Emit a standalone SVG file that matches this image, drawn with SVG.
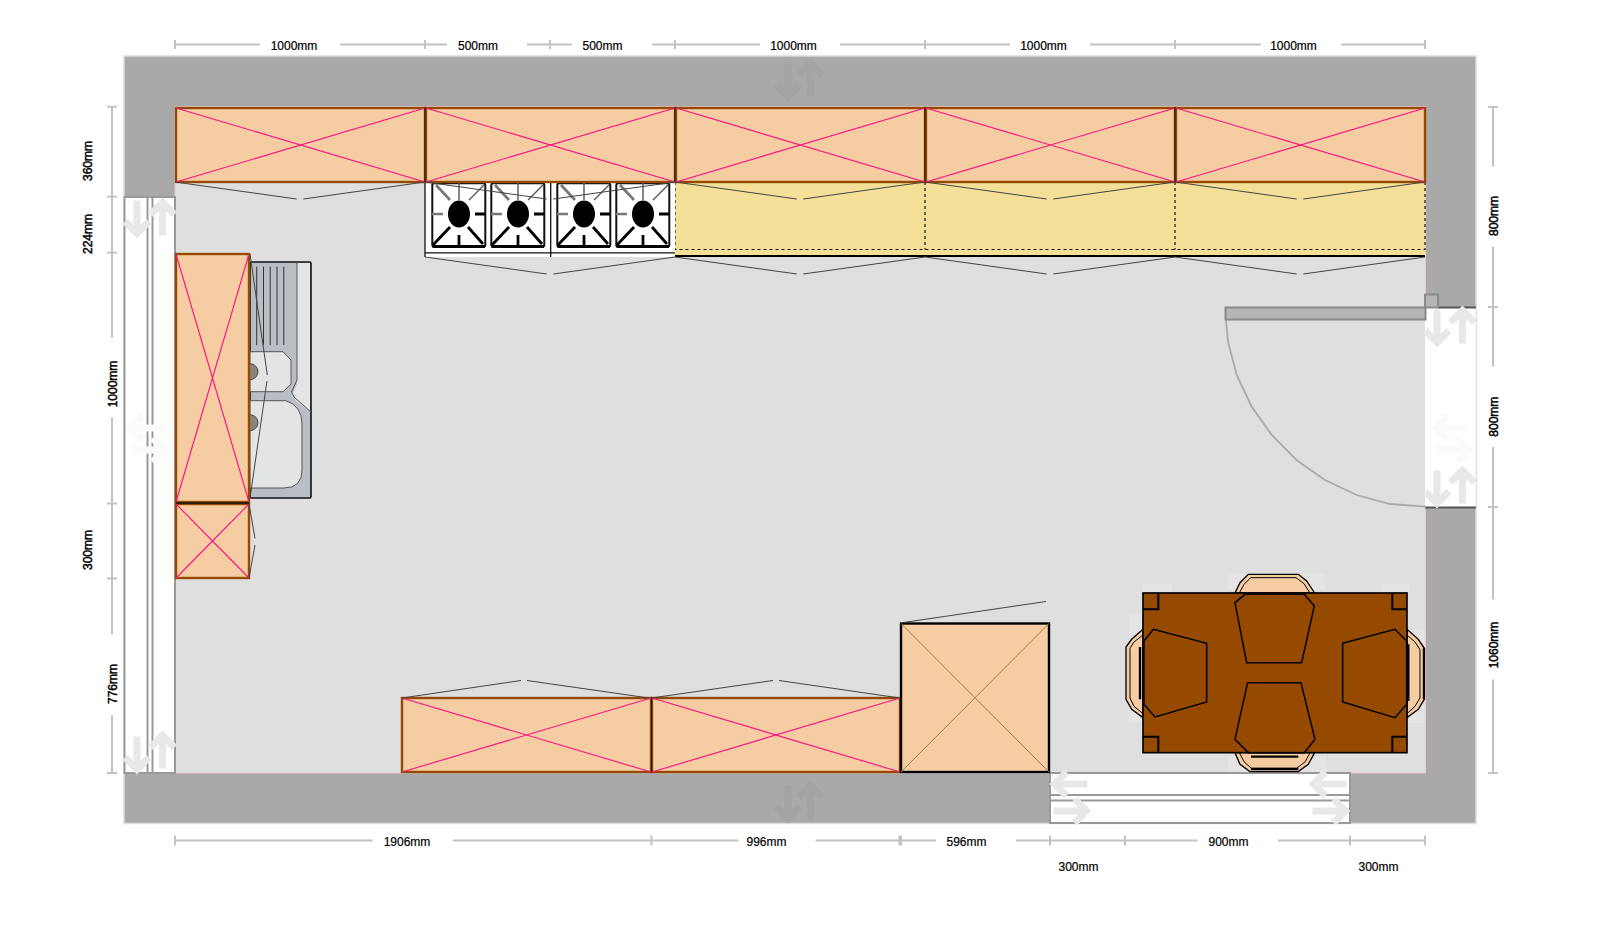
<svg xmlns="http://www.w3.org/2000/svg" width="1620" height="949" viewBox="0 0 1620 949">
<style>
text{font-family:"Liberation Sans",Arial,sans-serif;font-size:12px;fill:#000;text-anchor:middle;dominant-baseline:central;stroke:#000;stroke-width:.2}
.v{stroke-width:.45}
.dim{stroke:#c2c2c2;stroke-width:2;fill:none}
.wall{fill:#a9a9a9;stroke:#dcdcdc;stroke-width:1.5}
.cab{fill:#f6cca3;stroke:#954a00;stroke-width:2.4}
.x{stroke:#ff1080;stroke-width:1.1;fill:none}
.hint{stroke:#444;stroke-width:1;fill:none}
.win{fill:#fff;stroke:#999;stroke-width:2}
.a1{stroke:#e8e8e8;stroke-width:7;fill:none}
.a2{stroke:#fafafa;stroke-width:7;fill:none}
.a3{stroke:#a4a4a4;stroke-width:7;fill:none}
.dash{stroke:#111;stroke-width:1.2;stroke-dasharray:3 3;fill:none}
.sp{stroke:#000;fill:none}
</style>
<defs>
<path id="arr" d="M0,-17.5V15M-12,3.5L0,15.5L12,3.5"/>
<g id="plate">
<rect x="12.3" y="13.2" width="53" height="63.5" rx="2" fill="#fff" stroke="#111" stroke-width="2"/>
<path d="M12.5,76.5H65" stroke="#000" stroke-width="3"/>
<ellipse cx="39" cy="44" rx="11" ry="13.5" fill="#000"/>
<path class="sp" stroke-width="1.4" d="M39,13V30M64,15L49,30" style="stroke:#555"/>
<path class="sp" stroke-width="2.6" d="M16,15L30,30M12,44H23" style="stroke:#777"/>
<path class="sp" stroke-width="2.8" d="M39,65V76M55,44H65M13,75L30,57M63,74L48,57"/>
</g>
<pattern id="spk" width="5" height="5" patternUnits="userSpaceOnUse"><rect width="1.6" height="1.6" fill="#fff"/><rect x="2.5" y="2.5" width="1.2" height="1.2" fill="#fff"/></pattern>
</defs>

<g id="walls">
<rect class="wall" x="124" y="56" width="1352" height="767.5"/>
<rect x="175" y="106.5" width="1250.5" height="666.5" fill="#dfdfdf" stroke="#e8cccc" stroke-width="1"/>
<use href="#arr" class="a3" x="788" y="81"/>
<use href="#arr" class="a3" transform="translate(810.5 79) rotate(180)"/>
<use href="#arr" class="a3" x="788" y="803"/>
<use href="#arr" class="a3" transform="translate(810.5 801) rotate(180)"/>
</g>

<g id="window-left">
<rect class="win" x="124.5" y="197" width="50.5" height="576"/>
<path d="M147.5,197V773M152.5,197V773" stroke="#999" stroke-width="2" fill="none"/>
<use href="#arr" class="a1" x="137" y="218"/>
<use href="#arr" class="a1" transform="translate(162.5 218) rotate(180)"/>
<use href="#arr" class="a1" x="137" y="754"/>
<use href="#arr" class="a1" transform="translate(162.5 751) rotate(180)"/>
<use href="#arr" class="a2" transform="translate(146 428) rotate(90)"/>
<use href="#arr" class="a2" transform="translate(149 450) rotate(-90)"/>
</g>

<g id="window-right">
<rect x="1425" y="307" width="51" height="200" fill="#fff"/>
<path d="M1476,307V507" stroke="#e0e0e0" stroke-width="1"/>
<path d="M1438,307.5H1476M1425,507.5H1476" stroke="#555" stroke-width="2" fill="none"/>
<use href="#arr" class="a1" x="1437" y="327"/>
<use href="#arr" class="a1" transform="translate(1462.5 326) rotate(180)"/>
<use href="#arr" class="a1" x="1437" y="488"/>
<use href="#arr" class="a1" transform="translate(1462.5 486) rotate(180)"/>
<use href="#arr" class="a2" transform="translate(1451 428) rotate(90)"/>
<use href="#arr" class="a2" transform="translate(1453 450) rotate(-90)"/>
</g>

<g id="window-bottom">
<rect class="win" x="1050" y="773" width="300" height="50"/>
<path d="M1050,795H1350M1050,800.5H1350" stroke="#999" stroke-width="2" fill="none"/>
<use href="#arr" class="a1" transform="translate(1070 784) rotate(90)"/>
<use href="#arr" class="a1" transform="translate(1071 811) rotate(-90)"/>
<use href="#arr" class="a1" transform="translate(1329 784) rotate(90)"/>
<use href="#arr" class="a1" transform="translate(1330 811) rotate(-90)"/>
</g>

<g id="door">
<polyline points="1226,320 1228,341.7 1236.7,375 1251.7,406.7 1271.7,435 1297.3,460.7 1325,480 1356.7,495 1390,504 1425.7,506.7" fill="none" stroke="#aaa" stroke-width="1.8"/>
<rect x="1225.5" y="307.5" width="200" height="12" fill="#b5b5b5" stroke="#8a8a8a" stroke-width="2"/>
<rect x="1425" y="294.5" width="13" height="13" fill="#b5b5b5" stroke="#8a8a8a" stroke-width="2"/>
</g>

<g id="worktop">
<rect x="675" y="182" width="750" height="74" fill="#f3df98"/>
<path class="dash" d="M675,182V249.5H1425V182M925,182V249.5M1175,182V249.5"/>
<path d="M675,256H1425" stroke="#000" stroke-width="2"/>
</g>

<g id="hob">
<rect x="425" y="182" width="250" height="75" fill="#fff"/>
<path d="M425,182V257M550.7,182V257M425,252.8H675" stroke="#111" stroke-width="1.3" fill="none"/>
<g transform="translate(420 170)">
<use href="#plate"/>
<use href="#plate" x="59"/>
<use href="#plate" x="125"/>
<use href="#plate" x="184"/>
</g>
</g>

<g id="sink">
<rect x="250" y="262" width="61" height="236" rx="1.5" fill="#b9bdc4" stroke="#111" stroke-width="1.6"/>
<path d="M297,263H310V411L297,402L291.5,396L297,384Z" fill="#e3e4e4"/>
<path d="M297,262V380L291.5,392L294,397L311,412" fill="none" stroke="#555" stroke-width="1"/>
<path d="M250,351.7H283L291,360V384L283,391.7H250Z" fill="#e3e5e5" stroke="#555" stroke-width="1"/>
<path d="M250,400.7H286Q302,406 302,424V470Q302,488 284,488H250Z" fill="#e3e5e5" stroke="#555" stroke-width="1"/>
<path d="M256.7,266.7V345M263.5,266.7V345M270.2,266.7V345M277,266.7V345M283.8,266.7V345" stroke="#333" stroke-width="1" fill="none"/>
<circle cx="250" cy="371.7" r="8" fill="#8a8378" stroke="#333" stroke-width=".8"/>
<circle cx="250" cy="422.7" r="8" fill="#8a8378" stroke="#333" stroke-width=".8"/>
</g>

<g id="cabinet-top-1"><rect class="cab" x="176" y="108" width="249" height="74"/><path class="x" d="M176,108L425,182M425,108L176,182"/></g>
<g id="cabinet-top-2"><rect class="cab" x="426" y="108" width="249" height="74"/><path class="x" d="M426,108L675,182M675,108L426,182"/></g>
<g id="cabinet-top-3"><rect class="cab" x="676" y="108" width="249" height="74"/><path class="x" d="M676,108L925,182M925,108L676,182"/></g>
<g id="cabinet-top-4"><rect class="cab" x="926" y="108" width="249" height="74"/><path class="x" d="M926,108L1175,182M1175,108L926,182"/></g>
<g id="cabinet-top-5"><rect class="cab" x="1176" y="108" width="249" height="74"/><path class="x" d="M1176,108L1425,182M1425,108L1176,182"/></g>
<path d="M425,107V182M675,107V182M925,107V182M1175,107V182" stroke="#111" stroke-width="1" fill="none"/>

<g id="cabinet-left-tall"><rect class="cab" x="176" y="254" width="73" height="248"/><path class="x" d="M176,254L249,502M249,254L176,502"/></g>
<g id="cabinet-left-short"><rect class="cab" x="176" y="504" width="73" height="74" stroke-width="1.5"/><path class="x" d="M176,504L249,578M249,504L176,578"/></g>
<path d="M176,503H249" stroke="#111" stroke-width="1.6"/>

<g id="cabinet-bottom-1"><rect class="cab" x="402" y="698" width="249" height="74"/><path class="x" d="M402,698L651,772M651,698L402,772"/></g>
<g id="cabinet-bottom-2"><rect class="cab" x="652" y="698" width="248" height="74"/><path class="x" d="M652,698L900,772M900,698L652,772"/></g>
<path d="M651.5,697.5V772.5" stroke="#111" stroke-width="1"/>
<g id="cabinet-tall"><rect x="901" y="623.5" width="148" height="148.5" fill="#f6cca3" stroke="#000" stroke-width="2.4"/><path d="M901,623.5L1049,772M1049,623.5L901,772" stroke="#b07a40" stroke-width="1" fill="none"/></g>

<g id="table" transform="translate(1120 561) scale(.3333)">
<g fill="url(#spk)">
<rect x="325" y="38" width="60" height="50"/><rect x="545" y="38" width="70" height="50"/>
<rect x="70" y="70" width="85" height="24"/><rect x="785" y="70" width="85" height="24"/>
<rect x="27" y="160" width="40" height="70"/><rect x="865" y="205" width="50" height="40"/>
<rect x="27" y="430" width="40" height="55"/><rect x="865" y="430" width="50" height="55"/>
<rect x="325" y="580" width="60" height="52"/><rect x="545" y="580" width="75" height="52"/>
</g>
<g fill="#f6cca3" stroke="#000" stroke-width="4">
<polygon points="345,96 360,65 385,40 535,40 560,60 584,96"/>
<polygon points="345,575 360,610 390,632 535,632 565,610 584,575"/>
<polygon points="69,205 35,235 18,258 18,415 35,445 69,470"/>
<polygon points="861,205 895,235 913,262 913,415 895,445 861,470"/>
</g>
<g fill="none" stroke="#000" stroke-width="3">
<polyline points="358,96 372,70 392,50 528,50 552,68 570,96"/>
<polyline points="358,575 372,602 394,622 530,622 556,602 570,575"/>
<polyline points="69,222 42,243 30,262 30,411 42,436 69,458"/>
<polyline points="861,222 885,243 900,266 900,411 885,436 861,458"/>
</g>
<path d="M393,587H535M393,624H535M60,258V415M865,250V420M912,262V415" stroke="#000" stroke-width="7" fill="none"/>
<rect x="69" y="96" width="792" height="479" fill="#954a00" stroke="#000" stroke-width="5"/>
<path d="M69,145H115V96M861,145H817V96M69,527H115V575M861,527H817V575" fill="none" stroke="#000" stroke-width="6"/>
<g fill="none" stroke="#000" stroke-width="4.5">
<polygon points="375,100 345,125 380,305 545,305 583,135 553,100"/>
<polygon points="383,365 345,535 385,575 553,575 585,535 543,365"/>
<polygon points="72,240 100,205 260,247 260,423 105,468 72,430"/>
<polygon points="668,247 825,205 860,240 860,430 825,470 668,423"/>
</g>
</g>

<g id="connectors">
<path class="hint" d="M175,182L296.7,199M303.3,199L425,182"/>
<path class="hint" d="M425,182L546.7,199M553.3,199L675,182"/>
<path class="hint" d="M675,182L796.7,199M803.3,199L925,182"/>
<path class="hint" d="M925,182L1046.7,199M1053.3,199L1175,182"/>
<path class="hint" d="M1175,182L1296.7,199M1303.3,199L1425,182"/>
<path class="hint" d="M425,257L546.7,274M553.3,274L675,257"/>
<path class="hint" d="M675,257L796.7,274M803.3,274L925,257"/>
<path class="hint" d="M925,257L1046.7,274M1053.3,274L1175,257"/>
<path class="hint" d="M1175,257L1296.7,274M1303.3,274L1425,257"/>
<path class="hint" d="M250,254L267.3,375M267,381L250,498"/>
<path class="hint" d="M249,504L255,538.5M255,545L249,578"/>
<path class="hint" d="M402,698L521,680.5M527,680.5L649,698"/>
<path class="hint" d="M651.5,698L773,680.5M779,680.5L900,698"/>
<path class="hint" d="M900,623L1046,601.5"/>
</g>

<g id="dimensions">
<path class="dim" d="M175,44.5H260M340,44.5H425M425,44.5H447M527,44.5H572M652,44.5H675M675,44.5H760M840,44.5H925M925,44.5H1010M1090,44.5H1175M1175,44.5H1261M1341,44.5H1425"/>
<path class="dim" d="M175,40V49M425,40V49M550,40V49M675,40V49M925,40V49M1175,40V49M1425,40V49"/>
<text x="294" y="45.5">1000mm</text><text x="478" y="45.5">500mm</text><text x="602.5" y="45.5">500mm</text><text x="793.5" y="45.5">1000mm</text><text x="1043.5" y="45.5">1000mm</text><text x="1293.5" y="45.5">1000mm</text>

<path class="dim" d="M175,840.5H372.5M453,840.5H651.5M651.5,840.5H738.5M815.5,840.5H900.5M900.5,840.5H936M1016,840.5H1197.5M1278,840.5H1424.5"/>
<path class="dim" d="M175,835.5V845.5M651.5,835.5V845.5M899.5,835.5V845.5M901,835.5V845.5M1050,835.5V845.5M1125,835.5V845.5M1350,835.5V845.5M1425,835.5V845.5"/>
<text x="407" y="842">1906mm</text><text x="766.5" y="842">996mm</text><text x="966.5" y="842">596mm</text><text x="1228.5" y="842">900mm</text><text x="1078.5" y="867">300mm</text><text x="1378.5" y="867">300mm</text>

<path class="dim" d="M112,106.7V337.7M112,417.7V634.3M112,715V773"/>
<path class="dim" d="M107,106.7H117M107,196.7H117M107,252.7H117M107,503.5H117M107,578.5H117M107,773H117"/>
<text class="v" transform="translate(88 161) rotate(-90)">360mm</text>
<text class="v" transform="translate(88 234) rotate(-90)">224mm</text>
<text class="v" transform="translate(113 384) rotate(-90)">1000mm</text>
<text class="v" transform="translate(88 550) rotate(-90)">300mm</text>
<text class="v" transform="translate(113 684) rotate(-90)">776mm</text>

<path class="dim" d="M1493,107V166.7M1493,246.7V366.7M1493,447V599.5M1493,679.5V773"/>
<path class="dim" d="M1488,107H1498M1488,307H1498M1488,507H1498M1488,773H1498"/>
<text class="v" transform="translate(1494 216) rotate(-90)">800mm</text>
<text class="v" transform="translate(1494 416.7) rotate(-90)">800mm</text>
<text class="v" transform="translate(1494 645) rotate(-90)">1060mm</text>
</g>
</svg>
